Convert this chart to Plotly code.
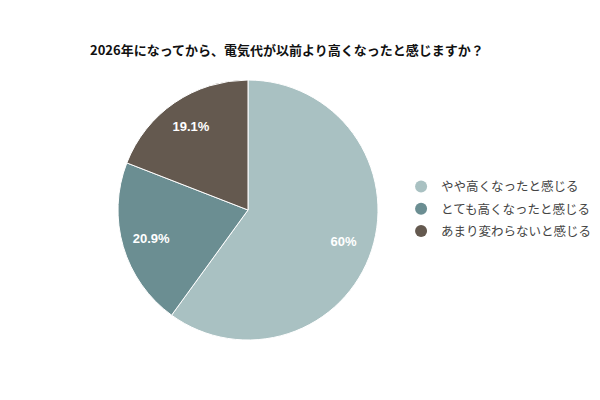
import plotly.graph_objects as go

# datos del grafico
categorias = ['やや高くなったと感じる', 'とても高くなったと感じる', 'あまり変わらないと感じる']
valores = [60, 20.9, 19.1]
colores = ['#a9c1c2', '#6b8e92', '#64594f']
titulo = '2026年になってから、電気代が以前より高くなったと感じますか？'

# la pagina agrega ~8px de margen, se compensa con tamano 592x384
dominio = dict(x=[0.1858, 0.625], y=[0.1354, 0.8125])

fig = go.Figure()

# torta principal (sin texto)
fig.add_trace(go.Pie(
    labels=categorias,
    values=valores,
    sort=False,
    direction='clockwise',
    rotation=0,
    marker=dict(colors=colores, line=dict(color='white', width=1)),
    textinfo='none',
    domain=dominio,
    showlegend=False,
    hoverinfo='label+percent'
))

# anillo transparente solo para ubicar las etiquetas
fig.add_trace(go.Pie(
    labels=categorias,
    values=valores,
    sort=False,
    direction='clockwise',
    rotation=0,
    hole=0.55,
    marker=dict(colors=['rgba(0,0,0,0)'] * 3, line=dict(width=0)),
    texttemplate='%{value}%',
    textposition='inside',
    insidetextorientation='horizontal',
    textfont=dict(family='Liberation Sans, Arial', size=13, color='white', weight='bold'),
    domain=dominio,
    showlegend=False,
    hoverinfo='skip'
))

# leyenda con circulos (trazas vacias)
for i, (nombre, color) in enumerate(zip(categorias, colores)):
    fig.add_trace(go.Scatter(
        x=[None], y=[None],
        mode='markers',
        name=nombre,
        legendgroup='g' + str(i),
        marker=dict(symbol='circle', size=12, color=color)
    ))

fig.update_layout(
    width=592,
    height=384,
    margin=dict(l=0, r=0, t=0, b=0, autoexpand=False),
    paper_bgcolor='white',
    plot_bgcolor='white',
    xaxis=dict(visible=False),
    yaxis=dict(visible=False),
    title=dict(
        text='<b>' + titulo + '</b>',
        x=0.1385, xanchor='left',
        y=0.8906, yanchor='middle',
        font=dict(family='Noto Sans CJK JP', size=13, color='#111111')
    ),
    legend=dict(
        x=0.664, xanchor='left',
        y=0.4766, yanchor='middle',
        font=dict(family='Noto Sans CJK JP', size=12.5, color='#444444'),
        itemwidth=30,
        tracegroupgap=3
    )
)

fig.write_html('out.html')
